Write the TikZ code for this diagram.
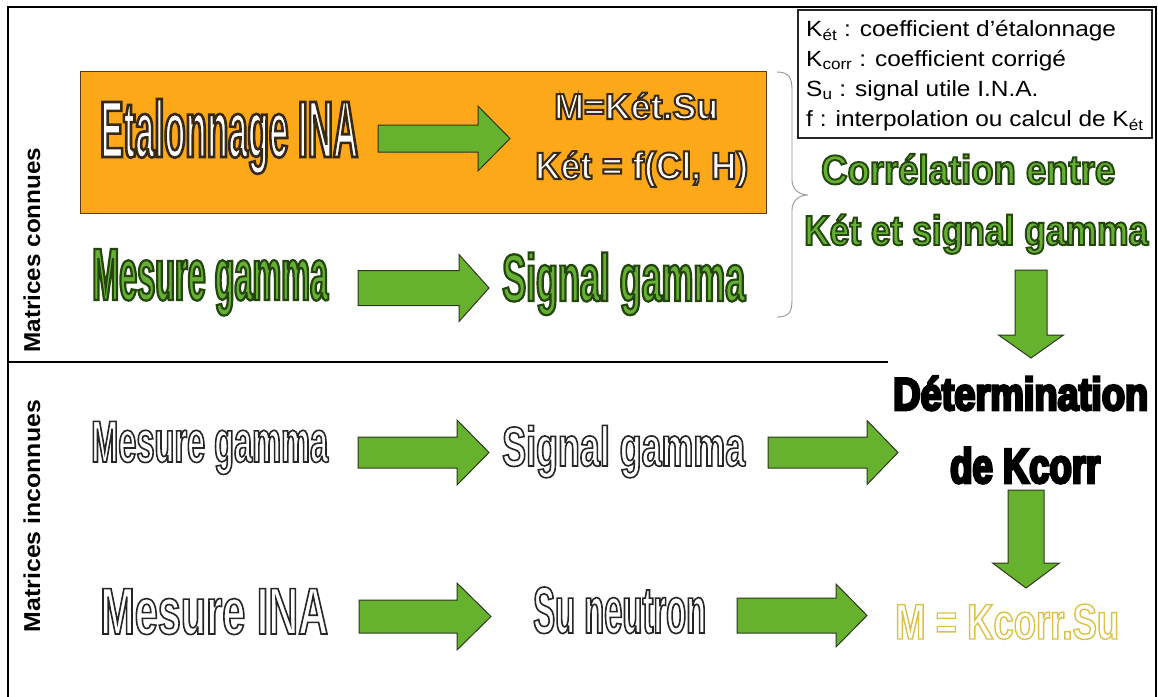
\documentclass[tikz,border=0pt]{standalone}
\usepackage{fontspec}
\setmainfont{Liberation Sans}
\usepackage{graphicx}
\definecolor{orangebox}{RGB}{252,168,24}
\definecolor{orangeedge}{RGB}{90,60,20}
\definecolor{arrowgreen}{RGB}{102,178,46}
\definecolor{arrowedge}{RGB}{45,55,30}
\definecolor{bracegray}{RGB}{150,150,150}
\newsavebox\fitbox
\newcommand\fitw[3]{\sbox\fitbox{\fontsize{#2}{#2}\selectfont #3}\pgfmathsetmacro\fitsx{#1/\the\wd\fitbox}\scalebox{\fitsx}[1]{\usebox\fitbox}}
% #1 fill rgb, #2 stroke rgb, #3 stroke width (px), #4 target width, #5 font size, #6 text
\newcommand\otext[6]{{\sbox\fitbox{\fontsize{#5}{#5}\selectfont\bfseries #6}%
  \pgfmathsetmacro\fitsx{#4/\the\wd\fitbox}%
  \pgfmathsetmacro\fitbw{#3*100/#5}%
  \edef\dofont{\noexpand\fontspec{Liberation Sans Bold}[FakeStretch=\fitsx,FakeBold=\fitbw]}%
  \dofont\fontsize{#5}{#5}\selectfont\special{pdf:bcolor [#1] [#2]}#6\special{pdf:ecolor}}}
\newcommand\rarrow[6]{\draw[garrow] (#1,#4-#5) -- (#2,#4-#5) -- (#2,#4-#6) -- (#3,#4) -- (#2,#4+#6) -- (#2,#4+#5) -- (#1,#4+#5) -- cycle;}
\newcommand\darrow[6]{\draw[garrow] (#1-#5,#2) -- (#1+#5,#2) -- (#1+#5,#3) -- (#1+#6,#3) -- (#1,#4) -- (#1-#6,#3) -- (#1-#5,#3) -- cycle;}
\newcommand\legline[1]{\scalebox{1.11}[1]{\fontsize{22}{26}\selectfont #1}}
\tikzset{
  txt/.style={inner sep=0pt, anchor=base west},
  garrow/.style={fill=arrowgreen, draw=arrowedge, line width=1pt, line join=miter},
  frameline/.style={line width=2.5pt, draw=black},
}
\begin{document}
\begin{tikzpicture}[x=1pt,y=-1pt]
\useasboundingbox (0,0) rectangle (1158,696);
\fill[white] (0,0) rectangle (1158,696);
% frame
\draw[frameline] (8,697) -- (8,7) -- (1156,7) -- (1156,697);
\draw[line width=1.2pt] (8,362) -- (888,362);
% left labels
\node[rotate=90, inner sep=0pt] (conn) at (32,250) {\fitw{205}{23}{\bfseries Matrices connues}};
\node[rotate=90, inner sep=0pt] (inconn) at (32,516) {\fitw{232}{23}{\bfseries Matrices inconnues}};
% orange box
\draw[fill=orangebox, draw=orangeedge, line width=1pt] (80,71) rectangle (766,213);
\node[txt] (etal) at (100,157) {\otext{1 1 1}{0.22 0.16 0.08}{2.6}{258}{80}{Etalonnage INA}};
\rarrow{378}{478}{510}{138.5}{13.5}{32.5}
\node[txt] (mket) at (554,119) {\otext{1 1 1}{0.22 0.16 0.08}{2}{164}{36}{M=Két.Su}};
\node[txt] (fcl) at (535,179) {\otext{1 1 1}{0.22 0.16 0.08}{2}{213}{38}{Két = f(Cl, H)}};
% row 2
\node[txt] (mg1) at (92,300) {\otext{0.40 0.69 0.20}{0.14 0.27 0.05}{2.2}{236}{74}{Mesure gamma}};
\rarrow{358}{459}{489}{288}{17.5}{33.5}
\node[txt] (sg1) at (502,301) {\otext{0.40 0.69 0.20}{0.14 0.27 0.05}{2.2}{243}{67}{Signal gamma}};
% brace
\draw[bracegray, line width=0.9pt] (777,72) .. controls (789,72) and (792,78) .. (792,90) -- (792,180) .. controls (792,190) and (800,195) .. (808,195) .. controls (800,195) and (792,200) .. (792,210) -- (792,300) .. controls (792,312) and (789,317) .. (777,317);
% legend
\draw[line width=1.2pt, draw=black!85] (798,10) rectangle (1152,138);
\node[txt] (l1) at (806,36) {\legline{K\textsubscript{ét} : coefficient d’étalonnage}};
\node[txt] (l2) at (806,66) {\legline{K\textsubscript{corr} : coefficient corrigé}};
\node[txt] (l3) at (806,96) {\legline{S\textsubscript{u} : signal utile I.N.A.}};
\node[txt] (l4) at (806,126) {\legline{f : interpolation ou calcul de K\textsubscript{ét}}};
% right column
\node[txt] (corr) at (821,184) {\otext{0.40 0.69 0.20}{0.14 0.27 0.05}{1.9}{294}{41}{Corrélation entre}};
\node[txt] (ketsg) at (804,245) {\otext{0.40 0.69 0.20}{0.14 0.27 0.05}{1.9}{344}{42}{Két et signal gamma}};
\darrow{1031}{270}{335}{358}{16}{32.5}
\node[txt] (det) at (893,410) {\otext{0 0 0}{0 0 0}{2.6}{255}{46}{Détermination}};
\node[txt] (dek) at (950,483) {\otext{0 0 0}{0 0 0}{2.6}{150}{49}{de Kcorr}};
% row 3
\node[txt] (mg2) at (91,462) {\otext{1 1 1}{0.15 0.15 0.15}{1.6}{237}{59}{Mesure gamma}};
\rarrow{358}{457}{489}{452.5}{15.5}{32.5}
\node[txt] (sg2) at (502,466) {\otext{1 1 1}{0.15 0.15 0.15}{1.6}{243}{56}{Signal gamma}};
\rarrow{768}{867}{898}{452.5}{15.5}{32}
% row 4
\node[txt] (mina) at (100,634) {\otext{1 1 1}{0.15 0.15 0.15}{1.6}{228}{66}{Mesure INA}};
\rarrow{359}{457}{491}{616.5}{16.5}{33.5}
\node[txt] (sun) at (533,633) {\otext{1 1 1}{0.15 0.15 0.15}{1.6}{173}{66}{Su neutron}};
\rarrow{737}{836}{867}{615.5}{17.5}{31.5}
\darrow{1026}{490}{563}{588}{18}{33.5}
\node[txt] (mk) at (895,639) {\otext{1 1 1}{0.86 0.76 0.28}{1.4}{224}{50}{M = Kcorr.Su}};
\end{tikzpicture}
\end{document}
